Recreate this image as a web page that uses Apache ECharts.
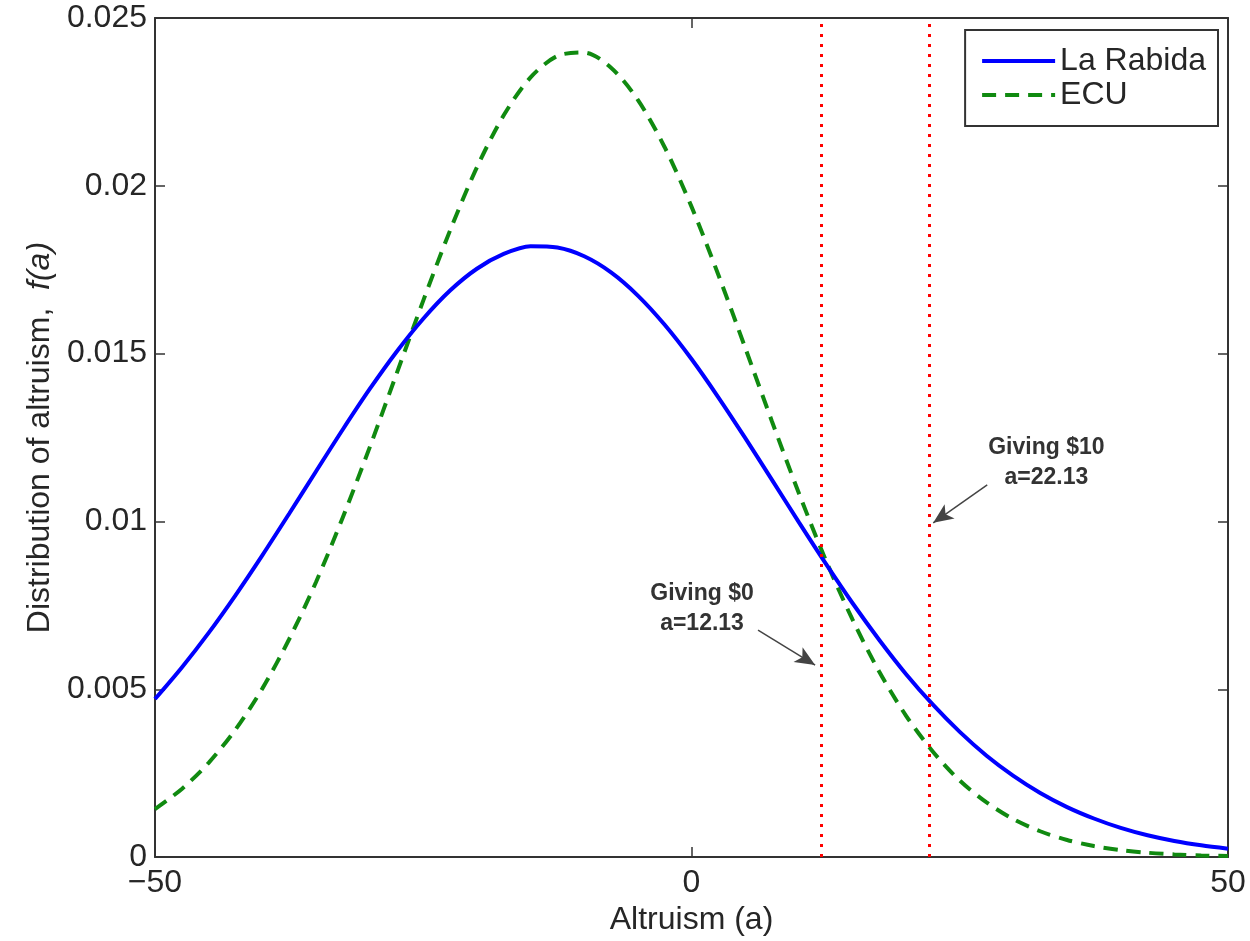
<!DOCTYPE html>
<html>
<head>
<meta charset="utf-8">
<script src="https://cdn.jsdelivr.net/npm/echarts@6/dist/echarts.min.js"></script>
<style>
  html, body { margin: 0; padding: 0; background: #fff; }
  #main { width: 1250px; height: 941px; }
</style>
</head>
<body>
<div id="main"></div>
<script>
// altruism grid (a) and the two densities
var alt = [-50, -47.5, -45, -42.5, -40, -37.5, -35, -32.5, -30, -27.5, -25, -22.5, -20, -17.5, -15, -12.5,
  -10, -7.5, -5, -2.5, 0, 2.5, 5, 7.5, 10, 12.5, 15, 17.5, 20, 22.5, 25, 27.5, 30, 32.5, 35, 37.5, 40, 42.5,
  45, 47.5, 50];
var laRabida = [0.00471, 0.00565, 0.00668, 0.00780, 0.00899, 0.01023, 0.01149, 0.01274, 0.01394, 0.01505,
  0.01604, 0.01688, 0.01753, 0.01797, 0.01820, 0.01816, 0.01790, 0.01742, 0.01673, 0.01586, 0.01484, 0.01370,
  0.01249, 0.01124, 0.00998, 0.00875, 0.00757, 0.00647, 0.00545, 0.00454, 0.00373, 0.00302, 0.00242, 0.00191,
  0.00149, 0.00115, 0.00087, 0.00065, 0.00048, 0.00035, 0.00025];
var ecu = [0.00143, 0.00203, 0.00281, 0.00380, 0.00502, 0.00649, 0.00819, 0.01012, 0.01220, 0.01439,
  0.01658, 0.01867, 0.02055, 0.02210, 0.02323, 0.02387, 0.02397, 0.02352, 0.02256, 0.02115, 0.01938, 0.01735,
  0.01518, 0.01298, 0.01085, 0.00886, 0.00708, 0.00552, 0.00421, 0.00314, 0.00228, 0.00163, 0.00113, 0.00077,
  0.00051, 0.00033, 0.00021, 0.00013, 0.00008, 0.00005, 0.00003];

var thresholds = [12.13, 22.13];
var notes = ['Giving $0\na=12.13', 'Giving $10\na=22.13'];
var notePos = [[0.98, 0.00740], [33.07, 0.01176]];
var arrows = [
  [[6.2, 0.00676], [11.52, 0.00572]],
  [[27.56, 0.01109], [22.53, 0.00996]]
];

var font = 'Liberation Sans, Arial, sans-serif';
var ink = '#262626';

function pairs(xs, ys) {
  return xs.map(function (x, i) { return [x, ys[i]]; });
}

var axisLine = { onZero: false, lineStyle: { color: '#333', width: 2 } };
var tickIn = { inside: true, length: 10, lineStyle: { color: '#333', width: 1.5 } };

var marks = [];
thresholds.forEach(function (t) {
  marks.push({ xAxis: t, lineStyle: { color: '#ff0000', width: 3, type: [3, 7] } });
});
arrows.forEach(function (a) {
  marks.push([
    { coord: a[0], symbol: 'none', lineStyle: { color: '#444', width: 1.5, type: 'solid' } },
    { coord: a[1], symbol: 'arrow', symbolSize: [13, 20] }
  ]);
});

var option = {
  backgroundColor: '#fff',
  animation: false,
  textStyle: { fontFamily: font },
  grid: { left: 155, right: 22, top: 18, bottom: 80 },
  legend: {
    data: ['La Rabida', 'ECU'],
    orient: 'vertical',
    right: 32,
    top: 30,
    padding: [14, 12, 14, 15],
    itemGap: 0,
    itemWidth: 73,
    itemHeight: 14,
    borderColor: '#333',
    borderWidth: 2,
    borderRadius: 0,
    backgroundColor: '#fff',
    itemStyle: { opacity: 0 },
    lineStyle: { width: 4 },
    textStyle: { fontSize: 32, color: ink, fontFamily: font, lineHeight: 34 }
  },
  xAxis: [{
    type: 'value', min: -50, max: 50, interval: 50,
    name: 'Altruism (a)', nameLocation: 'middle', nameGap: 44,
    nameTextStyle: { fontSize: 32, color: ink, fontFamily: font },
    axisLine: axisLine, axisTick: tickIn, splitLine: { show: false },
    axisLabel: {
      fontSize: 32, color: ink, margin: 10, fontFamily: font,
      formatter: function (v) { return String(v).replace('-', '\u2212'); }
    }
  }, {
    type: 'value', position: 'top', min: -50, max: 50, interval: 50,
    axisLine: axisLine, axisTick: tickIn, splitLine: { show: false },
    axisLabel: { show: false }
  }],
  yAxis: [{
    type: 'value', min: 0, max: 0.025, interval: 0.005,
    name: '{n|Distribution of altruism,  }{i|f(a)}', nameLocation: 'middle', nameGap: 97,
    nameTextStyle: {
      fontSize: 32, color: ink, fontFamily: font,
      rich: {
        n: { fontSize: 32, color: ink, fontFamily: font },
        i: { fontSize: 32, color: ink, fontFamily: font, fontStyle: 'italic' }
      }
    },
    axisLine: axisLine, axisTick: tickIn, splitLine: { show: false },
    axisLabel: { fontSize: 32, color: ink, margin: 8, fontFamily: font }
  }, {
    type: 'value', position: 'right', min: 0, max: 0.025, interval: 0.005,
    axisLine: axisLine, axisTick: tickIn, splitLine: { show: false },
    axisLabel: { show: false }
  }],
  series: [{
    name: 'La Rabida',
    type: 'line',
    smooth: 0.3,
    symbol: 'none',
    color: '#0000ff',
    lineStyle: { color: '#0000ff', width: 4 },
    data: pairs(alt, laRabida),
    z: 3,
    markLine: {
      silent: true,
      symbol: 'none',
      label: { show: false },
      data: marks
    },
    markPoint: {
      silent: true,
      symbol: 'circle',
      symbolSize: 0,
      label: {
        show: true, position: 'inside', fontSize: 23, fontWeight: 'bold',
        lineHeight: 30, color: '#333', fontFamily: font,
        formatter: function (p) { return p.name; }
      },
      data: notes.map(function (t, i) { return { name: t, coord: notePos[i] }; })
    }
  }, {
    name: 'ECU',
    type: 'line',
    smooth: 0.3,
    symbol: 'none',
    color: '#008000',
    lineStyle: { color: '#108a10', width: 4, type: [14, 9] },
    data: pairs(alt, ecu),
    z: 2
  }]
};

var myChart = echarts.init(document.getElementById('main'));
myChart.setOption(option);
</script>
</body>
</html>
